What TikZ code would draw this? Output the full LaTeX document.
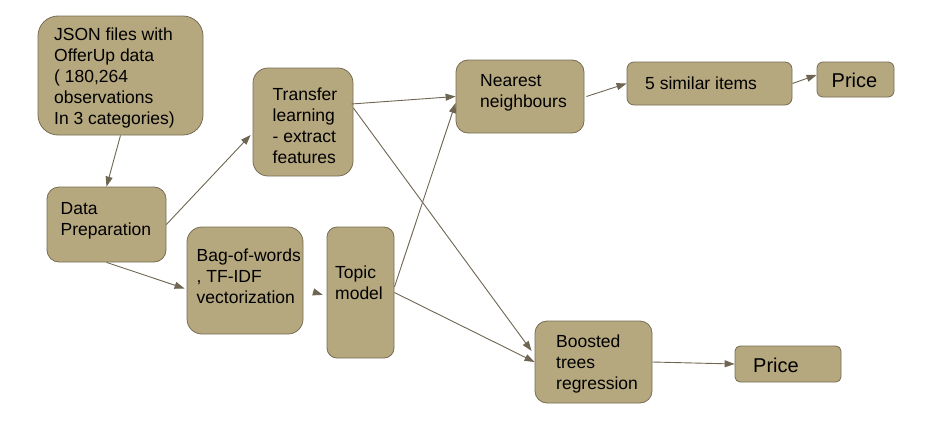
\documentclass[tikz,border=0pt]{standalone}
\usepackage{fontspec}
\setmainfont{Liberation Sans}
\usetikzlibrary{arrows.meta}
\definecolor{boxfill}{HTML}{B5A77E}
\definecolor{boxline}{HTML}{776D56}
\definecolor{arrowc}{HTML}{6E6652}
\begin{document}
\begin{tikzpicture}[x=1pt,y=-1pt,
  box/.style={draw=boxline,fill=boxfill,line width=0.8pt,inner sep=0pt},
  txt/.style={font=\fontsize{17.5}{21}\selectfont,align=left,inner sep=0pt,text=black},
  pricetxt/.style={font=\fontsize{20}{24}\selectfont,inner sep=0pt,text=black},
  conn/.style={draw=arrowc,line width=0.9pt,-{Triangle[length=10pt,width=7pt]}}]
\useasboundingbox (0,0) rectangle (929,431);

% boxes
\node[box,minimum width=165pt,minimum height=119pt,rounded corners=20pt] (json) at (120.5,75.5) {};
\node[box,minimum width=100pt,minimum height=108pt,rounded corners=15pt] (tr) at (303,122) {};
\node[box,minimum width=119pt,minimum height=75pt,rounded corners=12pt] (dp) at (106.5,224.5) {};
\node[box,minimum width=116pt,minimum height=107pt,rounded corners=15pt] (bag) at (245,280.5) {};
\node[box,minimum width=67pt,minimum height=131pt,rounded corners=10pt] (tp) at (360.5,292.5) {};
\node[box,minimum width=128pt,minimum height=73pt,rounded corners=12pt] (nn) at (520,96.5) {};
\node[box,minimum width=165pt,minimum height=43pt,rounded corners=7pt] (fs) at (709.5,83.5) {};
\node[box,minimum width=77pt,minimum height=35pt,rounded corners=6pt] (p1) at (855.5,79.5) {};
\node[box,minimum width=117pt,minimum height=82pt,rounded corners=12pt] (bo) at (593.5,362) {};
\node[box,minimum width=106pt,minimum height=36pt,rounded corners=5pt] (p2) at (788,364) {};

% texts
\node[txt,anchor=west] (jsonT) at (54,78) {JSON files with\\OfferUp data\\( 180,264\\observations\\In 3 categories)};
\node[txt,anchor=west] (trT) at (272.5,126) {Transfer\\learning\\- extract\\features};
\node[txt,anchor=west] (dpT) at (60.5,220.5) {Data\\Preparation};
\node[txt,anchor=west] (bagT) at (196.5,276.5) {Bag-of-words\\, TF-IDF\\vectorization};
\node[txt,anchor=west] (tpT) at (335,283) {Topic\\model};
\node[txt,anchor=west] (nnT) at (480,93) {Nearest\\neighbours};
\node[txt,anchor=base west] (fsT) at (645,89) {5 similar items};
\node[pricetxt,anchor=base west] (p1T) at (831.5,87) {Price};
\node[txt,anchor=west] (boT) at (556,363.5) {Boosted\\trees\\regression};
\node[pricetxt,anchor=base west] (p2T) at (753,372) {Price};

% connectors
\draw[conn] (json.south) -- (dp.north);
\draw[conn] (dp.east) -- ([yshift=-13pt,xshift=-2pt]tr.west);
\draw[conn] (dp.south) -- ([yshift=-8pt,xshift=-2pt]bag.west);
\draw[conn,shorten <=10pt,shorten >=4pt] ([yshift=-8.5pt]bag.east) -- ([yshift=-3.5pt]tp.west);
\draw[conn] ([yshift=18pt,xshift=-2pt]tr.east) -- (nn.west);
\draw[conn] ([yshift=14pt]tr.east) -- ([yshift=11pt,xshift=-3pt]bo.west);
\draw[conn] ([yshift=5.5pt]tp.east) -- ([yshift=-6.5pt]nn.west);
\draw[conn] (tp.east) -- (bo.west);
\draw[conn] ([xshift=2pt]nn.east) -- (fs.west);
\draw[conn] (fs.east) -- ([yshift=4.5pt]p1.west);
\draw[conn] (bo.east) -- (p2.west);
\end{tikzpicture}
\end{document}
